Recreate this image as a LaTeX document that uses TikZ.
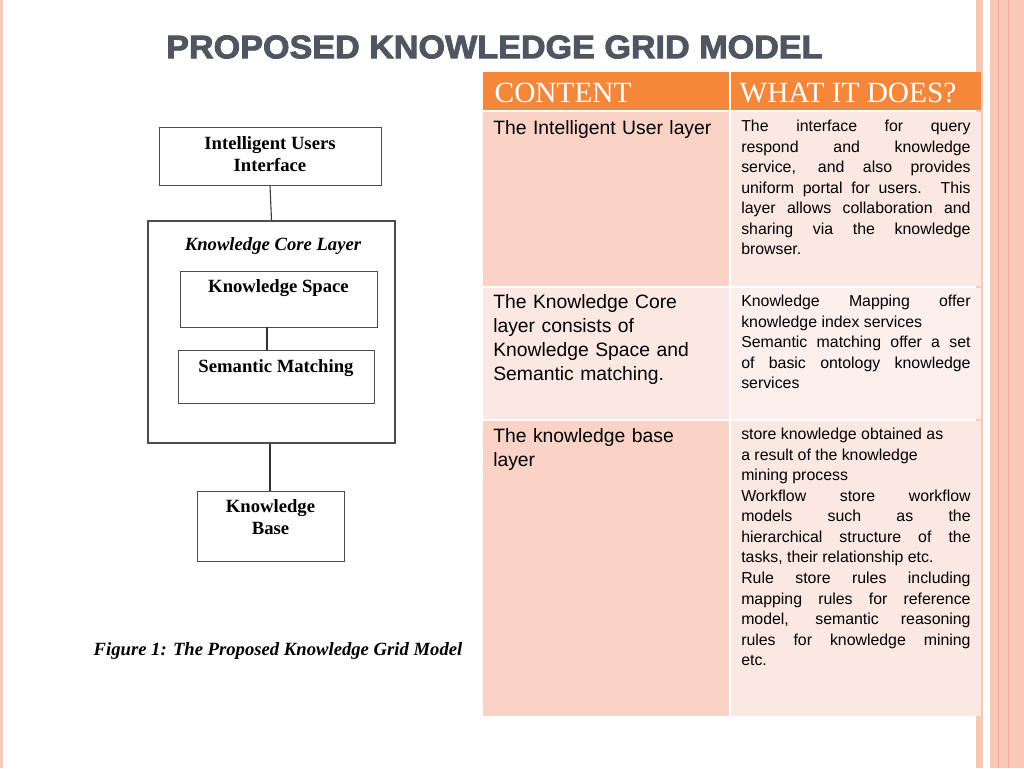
\documentclass[tikz,border=0pt]{standalone}
\usepackage{fontspec}
\setmainfont{Liberation Serif}
\newfontfamily\arial{Liberation Sans}
\newfontfamily\blackfont[FakeBold=2.5]{Liberation Sans Bold}
\usetikzlibrary{positioning}
\definecolor{hdr}{HTML}{F5873A}
\definecolor{cella}{HTML}{FAD3C6}
\definecolor{cellb}{HTML}{FCE8E2}
\definecolor{ttl}{HTML}{4F5662}
\definecolor{strip}{HTML}{F9C9B6}
\definecolor{stripd}{HTML}{F4A98A}
\tikzset{
 box/.style={draw=black!70, line width=0.6pt, inner sep=0pt},
 btxt/.style={font=\fontsize{14}{17}\selectfont\bfseries, align=center, anchor=north, inner sep=0pt},
 hd/.style={font=\fontsize{22}{24}\selectfont, text=white, anchor=west},
 ctxt/.style={font=\arial\fontsize{14.5}{18}\selectfont, text width=215pt, align=left, anchor=north west, inner sep=0pt},
 dtxt/.style={font=\arial\fontsize{11.9}{15.4}\selectfont, text width=172pt, align=justify, anchor=north west, inner sep=0pt},
}
\begin{document}
\begin{tikzpicture}[x=0.75pt,y=-0.75pt]
\useasboundingbox (0,0) rectangle (1024,768);
\fill[white] (0,0) rectangle (1024,768);
% side strips
\fill[strip] (0,0) rectangle (3,768);
\fill[strip] (976,0) rectangle (983,768);
\fill[strip] (990,0) rectangle (1024,768);
\draw[stripd, line width=0.6pt] (998,0) -- (998,768);
\draw[stripd, line width=0.6pt] (1008,0) -- (1008,768);
% title
\node[font=\blackfont\fontsize{24.5}{28}\selectfont, text=ttl, anchor=west, inner sep=0pt, xscale=1.045] (title) at (166,47) {PROPOSED KNOWLEDGE GRID MODEL};
% table
\fill[hdr] (483,72) rectangle (729,110);
\fill[hdr] (731,72) rectangle (981,110);
\fill[cella] (483,112) rectangle (729,286);
\fill[cellb] (731,112) rectangle (981,286);
\fill[cellb] (483,288) rectangle (729,419);
\fill[cellb!70!white] (731,288) rectangle (981,419);
\fill[cella] (483,421) rectangle (729,716);
\fill[cellb] (731,421) rectangle (981,716);
\node[hd] (h1) at (490,93) {CONTENT};
\node[hd] (h2) at (735,93) {WHAT IT DOES?};
\node[ctxt] (c1) at (493,120) {The Intelligent User layer};
\node[ctxt] (c2) at (493,294) {The Knowledge Core\\layer consists of\\Knowledge Space and\\Semantic matching.};
\node[ctxt] (c3) at (493,428) {The knowledge base\\layer};
\node[dtxt] (d1) at (741,120) {The interface for query\linebreak respond and knowledge\linebreak service, and also provides\linebreak uniform portal for users. This\linebreak layer allows collaboration and\linebreak sharing via the knowledge\linebreak browser.};
\node[dtxt] (d2) at (741,295) {Knowledge Mapping offer\linebreak knowledge index services\\Semantic matching offer a set\linebreak of basic ontology knowledge\linebreak services};
\node[dtxt] (d3) at (741,428) {store knowledge obtained as\\a result of the knowledge\\mining process\\Workflow store workflow\linebreak models such as the\linebreak hierarchical structure of the\linebreak tasks, their relationship etc.\\Rule store rules including\linebreak mapping rules for reference\linebreak model, semantic reasoning\linebreak rules for knowledge mining\linebreak etc.};
% diagram
\node[box, minimum width=166.5pt, minimum height=43pt] (iu) at (270,156.5) {};
\node[btxt] (iut) at (270,136) {Intelligent Users\\Interface};
\node[box, line width=1.6pt, minimum width=185pt, minimum height=166.5pt] (core) at (271.5,332) {};
\node[btxt, font=\fontsize{14}{16}\selectfont\bfseries\itshape] (coret) at (273,237) {Knowledge Core Layer};
\node[box, minimum width=147.75pt, minimum height=42pt] (ks) at (278.5,299) {};
\node[btxt] (kst) at (278.5,279) {Knowledge Space};
\node[box, minimum width=147pt, minimum height=39.75pt] (sm) at (276,376.5) {};
\node[btxt] (smt) at (276,359) {Semantic Matching};
\node[box, minimum width=110.25pt, minimum height=52.5pt] (kb) at (270.5,526) {};
\node[btxt] (kbt) at (270.5,499) {Knowledge\\Base};
\draw[black!80, line width=0.8pt] (iu.south) -- (core.north);
\draw[black!80, line width=0.8pt] (ks.south -| 267,0) -- (sm.north -| 267,0);
\draw[black!80, line width=0.8pt] (core.south -| 270,0) -- (kb.north -| 270,0);
\node[font=\fontsize{14}{16}\selectfont\bfseries\itshape] (cap) at (278,651) {Figure 1: The Proposed Knowledge Grid Model};
\end{tikzpicture}
\end{document}
